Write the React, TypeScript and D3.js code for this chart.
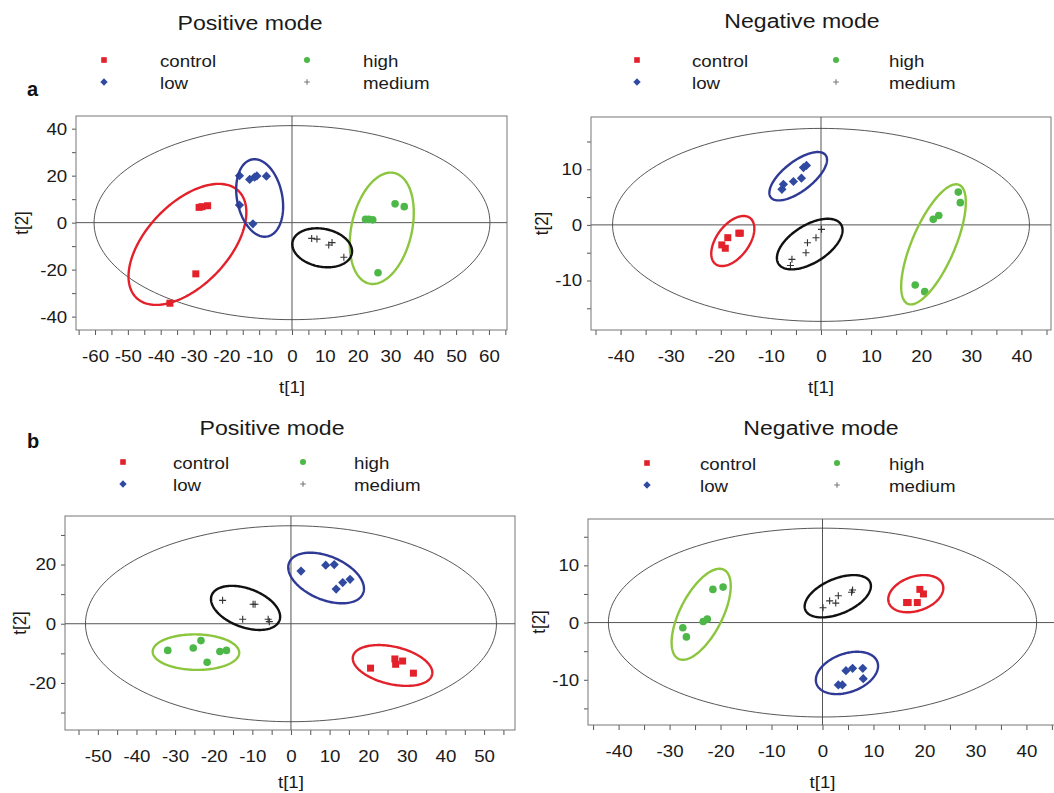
import { useEffect, useRef } from "react";
import * as d3 from "d3";

type Pt = [number, number];
interface Ell {
  group: string;
  cx: number;
  cy: number;
  hx: number;
  hy: number;
  rho: number;
}

const GROUPS = ["control", "low", "high", "medium"];
const POINT_COLORS: Record<string, string> = {
  control: "#e3212b",
  low: "#2f4aa0",
  high: "#4db848",
  medium: "#333333",
};
const RING_COLORS: Record<string, string> = {
  control: "#e3212b",
  low: "#2e3a95",
  high: "#8cc63f",
  medium: "#111111",
};
const FONT = "'Liberation Sans', Arial, sans-serif";
const SX = 1.1; // the figure is a little stretched sideways

// ---- a, positive mode
const aPosControl: Pt[] = [[-28.3, 6.5], [-27.4, 6.8], [-25.7, 7.2], [-29.3, -21.8], [-37.2, -34.3]];
const aPosLow: Pt[] = [[-16, 20], [-12.9, 18.4], [-11.4, 19.4], [-10.7, 19.9], [-7.8, 19.8], [-16, 7.5], [-11.9, -0.5]];
const aPosHigh: Pt[] = [[22.4, 1.4], [23.4, 1.4], [24.6, 1.2], [31.4, 8], [34.2, 6.8], [26.2, -21.3]];
const aPosMedium: Pt[] = [[6, -6.7], [7.6, -7], [11.2, -9.5], [12.2, -8.5], [15.8, -14.7]];
const aPosEllipses: Ell[] = [
  { group: "control", cx: -31.85, cy: -9.25, hx: 17.95, hy: 25.75, rho: 0.53 },
  { group: "low", cx: -9.85, cy: 10.5, hx: 7.15, hy: 16.5, rho: -0.22 },
  { group: "high", cx: 27.35, cy: -2.4, hx: 9.75, hy: 23.7, rho: 0.28 },
  { group: "medium", cx: 9.2, cy: -10.7, hx: 9.1, hy: 8.3, rho: -0.18 },
];
const aPosT2 = { rx: 60.3, ry: 41.3 };

// ---- a, negative mode
const aNegControl: Pt[] = [[-19.8, -3.6], [-19.1, -4.2], [-18.6, -2.3], [-16.4, -1.5], [-16.1, -1.5]];
const aNegLow: Pt[] = [[-7.8, 6.4], [-7.5, 7.3], [-5.5, 7.8], [-3.9, 8.4], [-3.5, 10.3], [-2.9, 10.7]];
const aNegHigh: Pt[] = [[27.4, 5.9], [27.8, 4], [22.4, 1], [23.5, 1.7], [18.8, -10.8], [20.7, -12]];
const aNegMedium: Pt[] = [[0.1, -0.8], [-1, -2.3], [-2.7, -3.2], [-3, -5], [-5.8, -6.2], [-6.1, -7.3]];
const aNegEllipses: Ell[] = [
  { group: "control", cx: -17.6, cy: -2.9, hx: 4.3, hy: 4.5, rho: 0.5 },
  { group: "low", cx: -4.55, cy: 8.75, hx: 5.75, hy: 4.35, rho: 0.68 },
  { group: "high", cx: 22.45, cy: -3.5, hx: 6.45, hy: 10.8, rho: 0.7 },
  { group: "medium", cx: -2.25, cy: -3.45, hx: 6.55, hy: 4.55, rho: 0.55 },
];
const aNegT2 = { rx: 41.6, ry: 17.35 };

// ---- b, positive mode
const bPosControl: Pt[] = [[20.6, -15], [26.9, -11.9], [27.1, -13.7], [28.9, -12.6], [31.7, -16.7]];
const bPosLow: Pt[] = [[2.6, 17.8], [9, 19.8], [11.2, 20], [11.7, 11.7], [13.4, 13.9], [15.3, 15]];
const bPosHigh: Pt[] = [[-31.9, -9], [-25.3, -8.2], [-23.3, -5.7], [-21.7, -13], [-18.4, -9.4], [-16.7, -9]];
const bPosMedium: Pt[] = [[-17.7, 7.9], [-9.8, 6.6], [-9.3, 6.6], [-12.5, 1.5], [-5.9, 1.5], [-5.6, 0.7]];
const bPosEllipses: Ell[] = [
  { group: "control", cx: 26.3, cy: -14.1, hx: 10.3, hy: 6.9, rho: -0.35 },
  { group: "low", cx: 9.1, cy: 15.45, hx: 9.8, hy: 8.55, rho: -0.42 },
  { group: "high", cx: -24.6, cy: -9.6, hx: 11.2, hy: 6, rho: -0.03 },
  { group: "medium", cx: -11.75, cy: 5.35, hx: 8.95, hy: 7.45, rho: -0.4 },
];
const bPosT2 = { rx: 53.2, ry: 33.1 };

// ---- b, negative mode
const bNegControl: Pt[] = [[16.5, 3.5], [16.8, 3.5], [18.6, 3.5], [19.1, 5.8], [19.8, 5]];
const bNegLow: Pt[] = [[3.1, -10.9], [3.9, -10.9], [4.6, -8.4], [5.9, -8], [7.9, -8], [8, -9.8]];
const bNegHigh: Pt[] = [[-27.4, -0.9], [-26.7, -2.5], [-23.4, 0.2], [-22.6, 0.6], [-21.5, 5.8], [-19.5, 6.2]];
const bNegMedium: Pt[] = [[0.1, 2.6], [1.4, 3.8], [2.6, 3.4], [3.1, 4.7], [5.7, 5.3], [5.9, 5.7]];
const bNegEllipses: Ell[] = [
  { group: "control", cx: 18.3, cy: 5.05, hx: 5.4, hy: 3.25, rho: 0.3 },
  { group: "low", cx: 4.8, cy: -8.8, hx: 6.1, hy: 3.7, rho: 0.33 },
  { group: "high", cx: -23.8, cy: 1.45, hx: 5.8, hy: 7.95, rho: 0.62 },
  { group: "medium", cx: 3, cy: 4.6, hx: 6.5, hy: 3.7, rho: 0.48 },
];
const bNegT2 = { rx: 42, ry: 16.5 };

// tick labels
const aPosXLabels = [-60, -50, -40, -30, -20, -10, 0, 10, 20, 30, 40, 50, 60];
const aPosYLabels = [-40, -20, 0, 20, 40];
const negXLabels = [-40, -30, -20, -10, 0, 10, 20, 30, 40];
const negYLabels = [-10, 0, 10];
const bPosXLabels = [-50, -40, -30, -20, -10, 0, 10, 20, 30, 40, 50];
const bPosYLabels = [-20, 0, 20];

interface PanelCfg {
  title: string;
  box: [number, number, number, number];
  xDomain: [number, number];
  yDomain: [number, number];
  xMinor: number;
  yMinor: number;
  xLabels: number[];
  yLabels: number[];
  points: Record<string, Pt[]>;
  ellipses: Ell[];
  t2: { rx: number; ry: number };
  titleAt: [number, number];
  legend: { m1: number; t1: number; m2: number; t2: number; r1: number; r2: number };
  xLabelY: number;
  yLabelX: number;
}

const PANELS: PanelCfg[] = [
  {
    title: "Positive mode",
    box: [76, 116, 507, 330],
    xDomain: [-65.8, 65.5],
    yDomain: [-45.7, 45.4],
    xMinor: 5,
    yMinor: 10,
    xLabels: aPosXLabels,
    yLabels: aPosYLabels,
    points: { control: aPosControl, low: aPosLow, high: aPosHigh, medium: aPosMedium },
    ellipses: aPosEllipses,
    t2: aPosT2,
    titleAt: [250, 30],
    legend: { m1: 104, t1: 160, m2: 307, t2: 363, r1: 60, r2: 82 },
    xLabelY: 393,
    yLabelX: 28,
  },
  {
    title: "Negative mode",
    box: [591, 117, 1051, 330],
    xDomain: [-45.9, 45.9],
    yDomain: [-18.9, 19.4],
    xMinor: 5,
    yMinor: 5,
    xLabels: negXLabels,
    yLabels: negYLabels,
    points: { control: aNegControl, low: aNegLow, high: aNegHigh, medium: aNegMedium },
    ellipses: aNegEllipses,
    t2: aNegT2,
    titleAt: [802, 28],
    legend: { m1: 637, t1: 692, m2: 836, t2: 889, r1: 60, r2: 82 },
    xLabelY: 393,
    yLabelX: 548,
  },
  {
    title: "Positive mode",
    box: [65, 516, 515, 730],
    xDomain: [-58.5, 58],
    yDomain: [-35.9, 36.4],
    xMinor: 5,
    yMinor: 10,
    xLabels: bPosXLabels,
    yLabels: bPosYLabels,
    points: { control: bPosControl, low: bPosLow, high: bPosHigh, medium: bPosMedium },
    ellipses: bPosEllipses,
    t2: bPosT2,
    titleAt: [272, 435],
    legend: { m1: 123, t1: 173, m2: 303, t2: 354, r1: 462, r2: 484 },
    xLabelY: 788,
    yLabelX: 26,
  },
  {
    title: "Negative mode",
    box: [588, 519, 1057, 725],
    xDomain: [-46, 46],
    yDomain: [-17.9, 18.1],
    xMinor: 5,
    yMinor: 5,
    xLabels: negXLabels,
    yLabels: negYLabels,
    points: { control: bNegControl, low: bNegLow, high: bNegHigh, medium: bNegMedium },
    ellipses: bNegEllipses,
    t2: bNegT2,
    titleAt: [821, 435],
    legend: { m1: 647, t1: 700, m2: 837, t2: 889, r1: 463, r2: 485 },
    xLabelY: 788,
    yLabelX: 545,
  },
];

function drawMarker(sel: d3.Selection<SVGGElement, unknown, null, undefined>, group: string, scale: number) {
  const c = POINT_COLORS[group];
  if (group === "control") {
    sel.append("rect").attr("x", -3.5 * scale).attr("y", -3.5 * scale)
      .attr("width", 7 * scale).attr("height", 7 * scale).attr("fill", c);
  } else if (group === "low") {
    const s = 4.6 * scale;
    sel.append("path").attr("d", `M0,${-s}L${s},0L0,${s}L${-s},0Z`).attr("fill", c);
  } else if (group === "high") {
    sel.append("circle").attr("r", 3.8 * scale).attr("fill", c);
  } else {
    const s = 3.5 * scale;
    sel.append("path").attr("d", `M${-s},0H${s}M0,${-s}V${s}`)
      .attr("stroke", c).attr("stroke-width", 1.1).attr("fill", "none");
  }
}

function Panel({ cfg }: { cfg: PanelCfg }) {
  const ref = useRef<SVGGElement>(null);

  useEffect(() => {
    if (!ref.current) return;
    const g = d3.select(ref.current);
    g.selectAll("*").remove();

    const [l, t, r, b] = cfg.box;
    const x = d3.scaleLinear().domain(cfg.xDomain).range([l, r]);
    const y = d3.scaleLinear().domain(cfg.yDomain).range([b, t]);
    const fmt = (d: d3.NumberValue) => String(d);

    // x axis ticks every 5, labels every 10
    const xTicks = d3.range(Math.ceil(cfg.xDomain[0] / cfg.xMinor) * cfg.xMinor, cfg.xDomain[1], cfg.xMinor);
    const xa = g.append("g").attr("transform", `translate(0,${b})`)
      .call(d3.axisBottom(x).tickValues(xTicks).tickSize(5).tickPadding(15)
        .tickFormat((d) => (cfg.xLabels.includes(+d) ? fmt(d) : "")));
    const yTicks = d3.range(Math.ceil(cfg.yDomain[0] / cfg.yMinor) * cfg.yMinor, cfg.yDomain[1], cfg.yMinor);
    const ya = g.append("g").attr("transform", `translate(${l},0)`)
      .call(d3.axisLeft(y).tickValues(yTicks).tickSize(4).tickPadding(4)
        .tickFormat((d) => (cfg.yLabels.includes(+d) ? fmt(d) : "")));
    [xa, ya].forEach((a) => {
      a.select(".domain").remove();
      a.selectAll("line").attr("stroke", "#555");
      a.selectAll("text").attr("font-family", FONT).attr("font-size", 17)
        .attr("fill", "#1a1a1a").attr("transform", `scale(${SX},1)`);
    });

    // box
    g.append("rect").attr("x", l).attr("y", t).attr("width", r - l).attr("height", b - t)
      .attr("fill", "none").attr("stroke", "#777").attr("stroke-width", 1);

    // zero lines
    g.append("line").attr("x1", x(0)).attr("x2", x(0)).attr("y1", t).attr("y2", b)
      .attr("stroke", "#555").attr("stroke-width", 1);
    g.append("line").attr("x1", l).attr("x2", r).attr("y1", y(0)).attr("y2", y(0))
      .attr("stroke", "#555").attr("stroke-width", 1);

    const line = d3.line<Pt>().x((d) => x(d[0])).y((d) => y(d[1])).curve(d3.curveLinearClosed);
    const ring = (e: Ell): Pt[] => {
      const phi = Math.acos(e.rho);
      return d3.range(0, 2 * Math.PI, Math.PI / 90)
        .map((a) => [e.cx + e.hx * Math.cos(a), e.cy + e.hy * Math.cos(a - phi)] as Pt);
    };

    // Hotelling T2 ellipse
    g.append("path")
      .attr("d", line(ring({ group: "", cx: 0, cy: 0, hx: cfg.t2.rx, hy: cfg.t2.ry, rho: 0 })))
      .attr("fill", "none").attr("stroke", "#444").attr("stroke-width", 0.9);

    // points
    GROUPS.forEach((grp) => {
      cfg.points[grp].forEach((p) => {
        const m = g.append("g").attr("transform", `translate(${x(p[0])},${y(p[1])})`);
        drawMarker(m, grp, 1);
      });
    });

    // group ellipses
    cfg.ellipses.forEach((e) => {
      g.append("path").attr("d", line(ring(e)))
        .attr("fill", "none").attr("stroke", RING_COLORS[e.group]).attr("stroke-width", 2.4);
    });

    // axis titles
    g.append("text").attr("transform", `translate(${x(0)},${cfg.xLabelY}) scale(${SX},1)`)
      .attr("text-anchor", "middle").attr("font-family", FONT).attr("font-size", 17)
      .attr("fill", "#1a1a1a").text("t[1]");
    g.append("text")
      .attr("transform", `translate(${cfg.yLabelX},${(t + b) / 2}) rotate(-90) scale(1,${SX})`)
      .attr("text-anchor", "middle").attr("font-family", FONT).attr("font-size", 17)
      .attr("fill", "#1a1a1a").text("t[2]");

    // panel title
    g.append("text").attr("transform", `translate(${cfg.titleAt[0]},${cfg.titleAt[1]}) scale(${SX},1)`)
      .attr("text-anchor", "middle").attr("font-family", FONT).attr("font-size", 21)
      .attr("fill", "#1a1a1a").text(cfg.title);

    // legend
    const L = cfg.legend;
    const slots: [string, number, number, number][] = [
      ["control", L.m1, L.t1, L.r1],
      ["low", L.m1, L.t1, L.r2],
      ["high", L.m2, L.t2, L.r1],
      ["medium", L.m2, L.t2, L.r2],
    ];
    slots.forEach(([grp, mx, tx, ry]) => {
      const m = g.append("g").attr("transform", `translate(${mx},${ry})`);
      drawMarker(m, grp, 0.8);
      if (grp === "medium") m.select("path").attr("stroke", "#777");
      g.append("text").attr("transform", `translate(${tx},${ry + 7}) scale(${SX},1)`)
        .attr("font-family", FONT).attr("font-size", 17).attr("fill", "#1a1a1a").text(grp);
    });
  }, [cfg]);

  return <g ref={ref} />;
}

export default function App() {
  return (
    <svg
      width={1054}
      height={793}
      style={{ position: "absolute", left: 0, top: 0, background: "#fff" }}
      role="img"
      aria-label="PCA score plots, positive and negative mode"
    >
      <rect width={1054} height={793} fill="#fff" />
      {PANELS.map((p, i) => (
        <Panel key={i} cfg={p} />
      ))}
      <text x={27} y={96} fontFamily={FONT} fontSize={20} fontWeight="bold" fill="#111">a</text>
      <text x={27} y={448} fontFamily={FONT} fontSize={20} fontWeight="bold" fill="#111">b</text>
    </svg>
  );
}
